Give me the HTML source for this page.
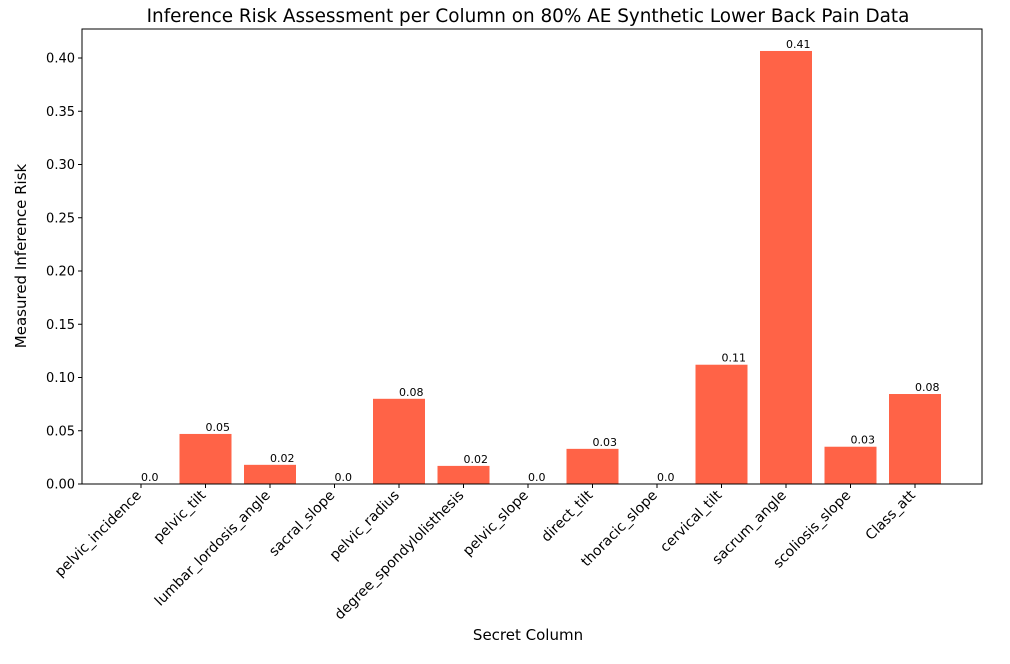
<!DOCTYPE html>
<html><head><meta charset="utf-8"><style>
body{margin:0;background:#fff;font-family:"Liberation Sans","DejaVu Sans",sans-serif;}
svg text{font-family:"DejaVu Sans","Liberation Sans",sans-serif;}
</style></head><body>
<svg id="chart" width="1010" height="659" xmlns="http://www.w3.org/2000/svg">
<rect width="1010" height="659" fill="#fff"/>
<text x="528" y="22" text-anchor="middle" font-size="18.4">Inference Risk Assessment per Column on 80% AE Synthetic Lower Back Pain Data</text>
<g id="bars"></g>
<g id="yaxis"></g>
<g id="xaxis"></g>
<rect x="82" y="29" width="900" height="455" fill="none" stroke="#000" stroke-width="1"/>
<text transform="translate(26,256) rotate(-90)" text-anchor="middle" font-size="15">Measured Inference Risk</text>
<text x="528" y="640" text-anchor="middle" font-size="15">Secret Column</text>
</svg>
<script>
const categories=["pelvic_incidence","pelvic_tilt","lumbar_lordosis_angle","sacral_slope","pelvic_radius","degree_spondylolisthesis","pelvic_slope","direct_tilt","thoracic_slope","cervical_tilt","sacrum_angle","scoliosis_slope","Class_att"];
const values=[0,0.047,0.018,0,0.080,0.017,0,0.033,0,0.112,0.4066,0.035,0.0845];
const valueLabels=["0.0","0.05","0.02","0.0","0.08","0.02","0.0","0.03","0.0","0.11","0.41","0.03","0.08"];
const yTicks=[0,0.05,0.10,0.15,0.20,0.25,0.30,0.35,0.40];
const yTickLabels=["0.00","0.05","0.10","0.15","0.20","0.25","0.30","0.35","0.40"];
const NS="http://www.w3.org/2000/svg";
const y=v=>484-v*1065;
const x=i=>141+64.5*i;
const bw=52;
const bars=document.getElementById('bars'),ya=document.getElementById('yaxis'),xa=document.getElementById('xaxis');
function mk(t,a,p){const e=document.createElementNS(NS,t);for(const k in a)e.setAttribute(k,a[k]);p.appendChild(e);return e;}
yTicks.forEach((v,i)=>{
  const l=mk('line',{x1:78,x2:82,y1:y(v),y2:y(v),stroke:'#000'},ya);
  
  
  const t=mk('text',{x:75,y:y(v)+4.5,'text-anchor':'end','font-size':13},ya);
  t.textContent=yTickLabels[i];
  
  
});
categories.forEach((c,i)=>{
  const r=mk('rect',{x:x(i)-bw/2,y:y(values[i]),width:bw,height:values[i]*1065,fill:'#ff6347'},bars);
  
  
  const vl=mk('text',{x:x(i),y:y(values[i])-3,'font-size':11},bars);
  vl.textContent=valueLabels[i];
  
  
  const tk=mk('line',{x1:x(i),x2:x(i),y1:484,y2:488,stroke:'#000'},xa);
  
  
  const t=mk('text',{transform:`translate(${x(i)+1},${496}) rotate(-45)`,'text-anchor':'end','font-size':14},xa);
  t.textContent=c;
  
  
});
</script>
</body></html>
